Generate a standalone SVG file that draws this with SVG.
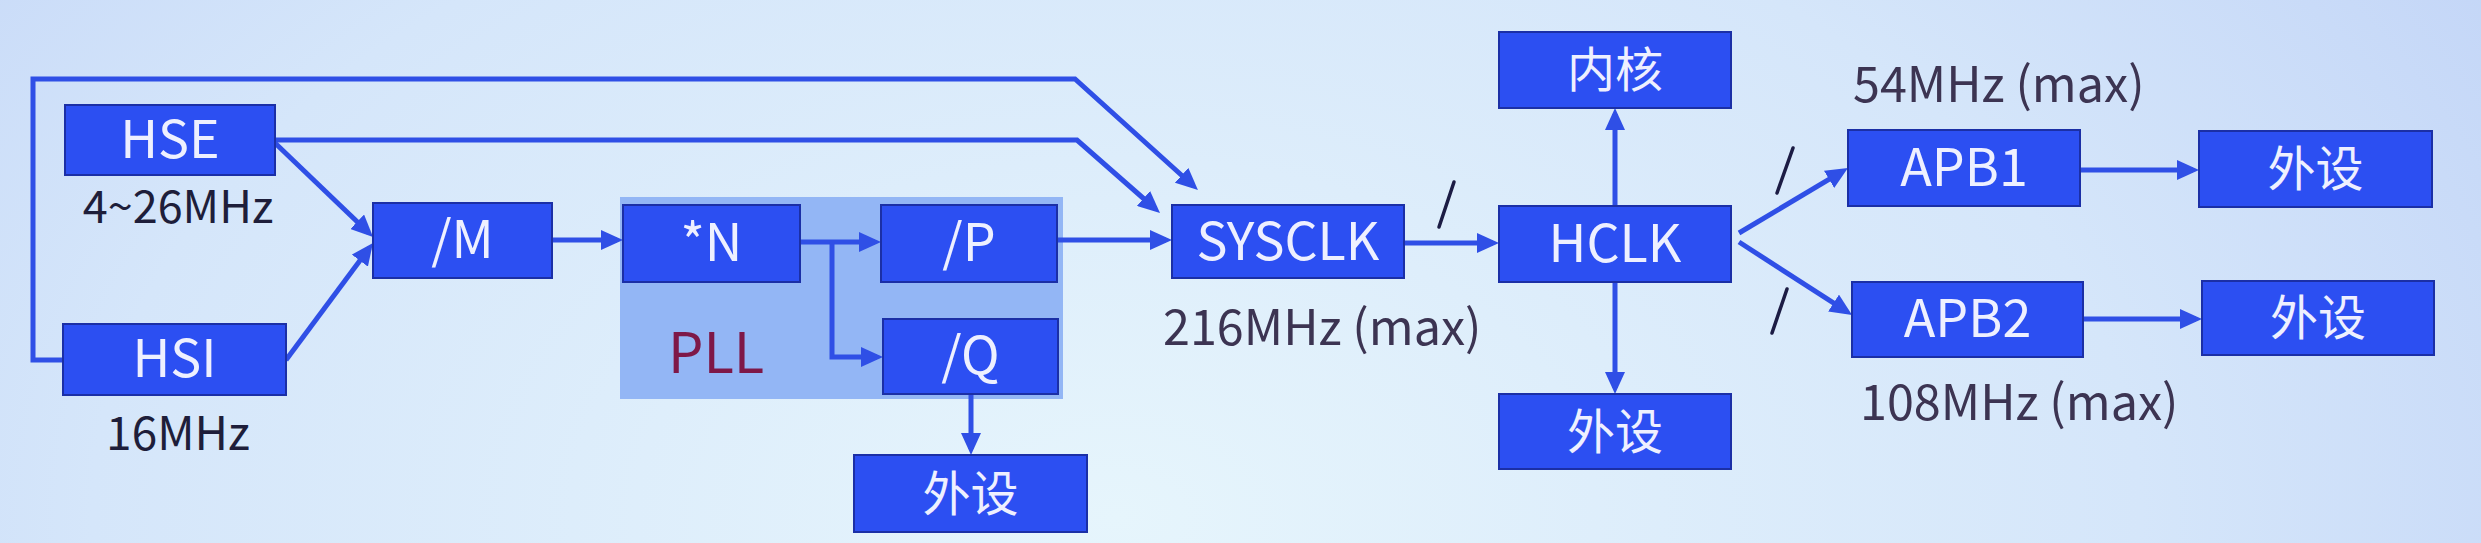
<svg xmlns="http://www.w3.org/2000/svg" width="2481" height="543" viewBox="0 0 2481 543">
<defs>
<radialGradient id="bg" cx="0.45" cy="0.95" r="0.75" gradientTransform="translate(0.45 0.95) scale(1 3) translate(-0.45 -0.95)">
<stop offset="0" stop-color="#e6f5fc"/>
<stop offset="0.55" stop-color="#d5e6fa"/>
<stop offset="1" stop-color="#bccff6"/>
</radialGradient>
<marker id="ah" viewBox="0 0 22 20" refX="16" refY="10" markerWidth="22" markerHeight="20" markerUnits="userSpaceOnUse" orient="auto">
<path d="M0,0 L22,10 L0,20 z" fill="#2f4fe6"/>
</marker>
<style>
.box{fill:#2c4ff2;stroke:#1b2fa6;stroke-width:2}
.bt{font-family:"Noto Sans CJK SC","Noto Sans",sans-serif;font-size:52px;fill:#eef0ff;text-anchor:middle}
.ct{font-family:"Noto Sans CJK SC","Noto Sans",sans-serif;font-size:48px;fill:#eef0ff;text-anchor:middle}
.lbl{font-family:"Noto Sans CJK SC","Noto Sans",sans-serif;fill:#3c3452}
.dk{fill:#1e1e3a}
.con{fill:none;stroke:#2f4fe6;stroke-width:5;stroke-linejoin:miter}
.arr{marker-end:url(#ah)}
.sl{stroke:#1c1c44;stroke-width:3.5;stroke-linecap:round}
</style>
</defs>
<rect x="0" y="0" width="2481" height="543" fill="url(#bg)"/>
<g id="pll-group">
<rect x="620" y="197" width="443" height="202" fill="#93b6f5"/>
<text x="668" y="373" font-family="Noto Sans CJK SC, Noto Sans, sans-serif" font-size="56" fill="#7e1848">PLL</text>
</g>
<g id="connectors">
<path class="con arr" d="M63,360 L33,360 L33,79 L1075,79 L1193.5,186"/>
<path class="con arr" d="M275,140 L1077,140 L1155.5,209"/>
<path class="con arr" d="M275,143 L368.7,232.8"/>
<path class="con arr" d="M286,360 L369.4,247.8"/>
<path class="con arr" d="M552,240 L617,240"/>
<path class="con arr" d="M800,242 L875,242"/>
<path class="con arr" d="M832,242 L832,357 L877,357"/>
<path class="con arr" d="M1058,240 L1166,240"/>
<path class="con arr" d="M1404,243 L1493,243"/>
<path class="con arr" d="M971,394 L971,449"/>
<path class="con arr" d="M1615,206 L1615,114"/>
<path class="con arr" d="M1615,282 L1615,388"/>
<path class="con arr" d="M1739,233 L1842.8,171.1"/>
<path class="con arr" d="M1739,242 L1847,311.7"/>
<path class="con arr" d="M2080,170 L2193,170"/>
<path class="con arr" d="M2083,319 L2196,319"/>
<line class="sl" x1="1439" y1="227" x2="1454" y2="182"/>
<line class="sl" x1="1777" y1="193" x2="1793" y2="148"/>
<line class="sl" x1="1772" y1="333" x2="1787" y2="289"/>
</g>
<g id="HSE"><rect class="box" x="65" y="105" width="210" height="70"/><text class="bt" x="170" y="158">HSE</text></g>
<g id="HSI"><rect class="box" x="63" y="324" width="223" height="71"/><text class="bt" x="174.5" y="377">HSI</text></g>
<g id="M"><rect class="box" x="373" y="203" width="179" height="75"/><text class="bt" x="462.5" y="258">/M</text></g>
<g id="N"><rect class="box" x="623" y="205" width="177" height="77"/><text class="bt" x="711.5" y="261">*N</text></g>
<g id="P"><rect class="box" x="881" y="205" width="176" height="77"/><text class="bt" x="969" y="261">/P</text></g>
<g id="Q"><rect class="box" x="883" y="319" width="175" height="75"/><text class="bt" x="970.5" y="374">/Q</text></g>
<g id="periph-pll"><rect class="box" x="854" y="455" width="233" height="77"/><text class="ct" x="970.5" y="511">外设</text></g>
<g id="SYSCLK"><rect class="box" x="1172" y="205" width="232" height="73"/><text class="bt" x="1288" y="260">SYSCLK</text></g>
<g id="HCLK"><rect class="box" x="1499" y="206" width="232" height="76"/><text class="bt" x="1615" y="262">HCLK</text></g>
<g id="core"><rect class="box" x="1499" y="32" width="232" height="76"/><text class="ct" x="1615" y="87">内核</text></g>
<g id="periph-hclk"><rect class="box" x="1499" y="394" width="232" height="75"/><text class="ct" x="1615" y="449">外设</text></g>
<g id="APB1"><rect class="box" x="1848" y="130" width="232" height="76"/><text class="bt" x="1964" y="186">APB1</text></g>
<g id="APB2"><rect class="box" x="1852" y="282" width="231" height="75"/><text class="bt" x="1967.5" y="337">APB2</text></g>
<g id="periph-apb1"><rect class="box" x="2199" y="131" width="233" height="76"/><text class="ct" x="2315.5" y="186">外设</text></g>
<g id="periph-apb2"><rect class="box" x="2202" y="281" width="232" height="74"/><text class="ct" x="2318" y="335">外设</text></g>
<g id="labels">
<text class="lbl dk" x="178" y="223" font-size="45" text-anchor="middle">4~26MHz</text>
<text class="lbl dk" x="178" y="450" font-size="46" text-anchor="middle">16MHz</text>
<text class="lbl" x="1163" y="345" font-size="48.5">216MHz (max)</text>
<text class="lbl" x="1853" y="102" font-size="48.5">54MHz (max)</text>
<text class="lbl" x="1860" y="420" font-size="48.5">108MHz (max)</text>
</g>
</svg>
